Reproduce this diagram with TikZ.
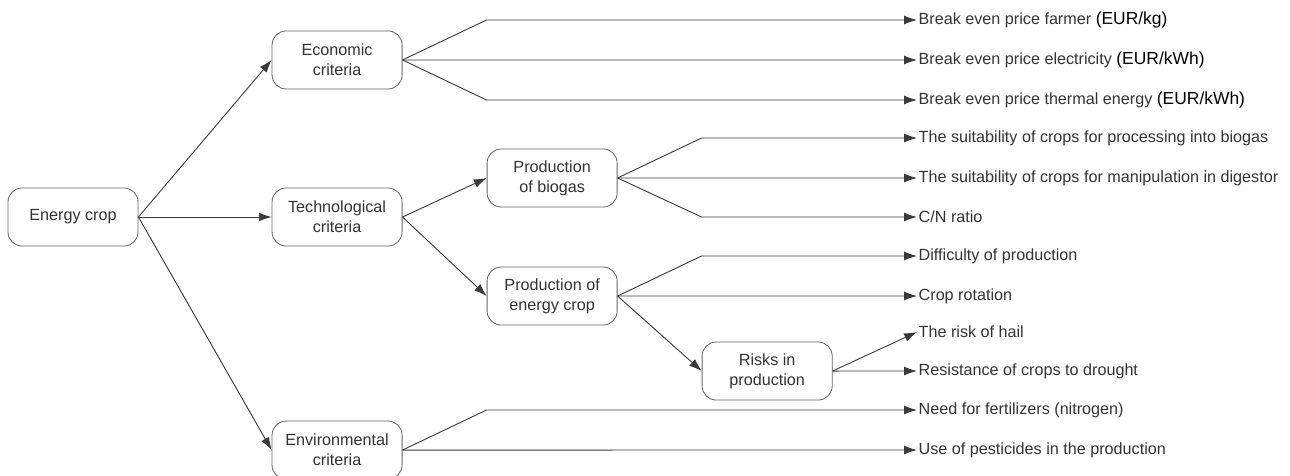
\documentclass[tikz,border=0pt]{standalone}
\usepackage{fontspec}
\setmainfont{Liberation Sans}
\usetikzlibrary{shapes, arrows.meta, positioning}
\definecolor{boxgray}{HTML}{666666}
\definecolor{linegray}{HTML}{3A3A3A}
\definecolor{textgray}{HTML}{333333}
\newcommand{\eurunit}[1]{{\fontsize{12.4}{15}\selectfont\color{black}#1}}
\tikzstyle{block} = [rectangle, draw=boxgray, line width=0.6pt, fill=white, text=textgray,
    align=center, rounded corners=0.35cm, minimum width=3.25cm, minimum height=1.45cm,
    font=\fontsize{11.5}{14.2}\selectfont]
\tikzstyle{leaf} = [anchor=west, inner sep=1pt, text=textgray,
    font=\fontsize{11.5}{14.2}\selectfont]
\tikzstyle{line} = [draw=linegray, line width=0.65pt, -{Latex[length=3.2mm, width=2.2mm]}]

\begin{document}
\begin{tikzpicture}[x=0.025cm, y=-0.025cm, node distance=5.375cm]
    \useasboundingbox (0,0) rectangle (1290,475);
    % Place nodes
    \node [block] (crop) at (73,217) {Energy crop};
    \node [block, right of=crop, node distance=6.6cm] (tech) {Technological\\criteria};
    \node [block, above of=tech, node distance=3.925cm] (econ) {Economic\\criteria};
    \node [block, below of=tech, node distance=5.825cm] (env) {Environmental\\criteria};
    \node [block, right of=tech, yshift=0.975cm] (biogas) {Production\\of biogas};
    \node [block, below of=biogas, node distance=2.95cm] (prodcrop) {Production of\\energy crop};
    \node [block, right of=prodcrop, yshift=-1.875cm] (risks) {Risks in\\production};
    % Place criteria
    \node [leaf] (farmer) at (917,20) {Break even price farmer \eurunit{(EUR/kg)}};
    \node [leaf] (electricity) at (917,60) {Break even price electricity \eurunit{(EUR/kWh)}};
    \node [leaf] (thermal) at (917,100) {Break even price thermal energy \eurunit{(EUR/kWh)}};
    \node [leaf] (processing) at (917,138) {The suitability of crops for processing into biogas};
    \node [leaf] (digestor) at (917,178) {The suitability of crops for manipulation in digestor};
    \node [leaf] (ratio) at (917,217) {C/N ratio};
    \node [leaf] (difficulty) at (917,256) {Difficulty of production};
    \node [leaf] (rotation) at (917,296) {Crop rotation};
    \node [leaf] (hail) at (917,332) {The risk of hail};
    \node [leaf] (drought) at (917,371) {Resistance of crops to drought};
    \node [leaf] (fertilizers) at (917,410) {Need for fertilizers (nitrogen)};
    \node [leaf] (pesticides) at (917,450) {Use of pesticides in the production};
    % Knees of the branches
    \coordinate [right=2.1cm of econ.east] (econknee);
    \coordinate [right=2.1cm of biogas.east] (biogasknee);
    \coordinate [right=2.1cm of prodcrop.east] (prodcropknee);
    \coordinate [right=2.1cm of env.east] (envknee);
    % Draw edges
    \path [line] (crop.east) -- (econ.west);
    \path [line] (crop.east) -- (tech.west);
    \path [line] (crop.east) -- (env.west);
    \path [line] (tech.east) -- (biogas.west);
    \path [line] (tech.east) -- (prodcrop.west);
    \path [line] (prodcrop.east) -- (risks.west);
    \path [line] (econ.east) -- (econknee |- farmer) -- (farmer.west);
    \path [line] (econ.east) -- (electricity.west);
    \path [line] (econ.east) -- (econknee |- thermal) -- (thermal.west);
    \path [line] (biogas.east) -- (biogasknee |- processing) -- (processing.west);
    \path [line] (biogas.east) -- (digestor.west);
    \path [line] (biogas.east) -- (biogasknee |- ratio) -- (ratio.west);
    \path [line] (prodcrop.east) -- (prodcropknee |- difficulty) -- (difficulty.west);
    \path [line] (prodcrop.east) -- (rotation.west);
    \path [line] (risks.east) -- (hail.west);
    \path [line] (risks.east) -- (drought.west);
    \path [line] (env.east) -- (envknee |- fertilizers) -- (fertilizers.west);
    \path [line] (env.east) -- (pesticides.west);
\end{tikzpicture}
\end{document}
